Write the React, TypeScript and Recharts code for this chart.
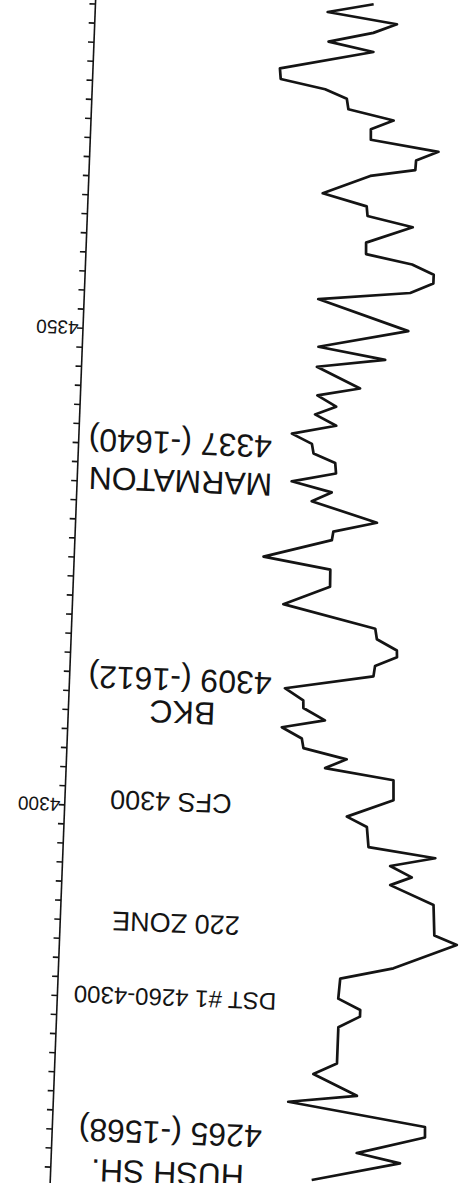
import { LineChart, Line, XAxis, YAxis, ReferenceDot } from "recharts";

const depthFt = [
  4261.7, 4263.8, 4264.7, 4266.6, 4267.7, 4269.8, 4270.7, 4272.8, 4274.0, 4277.8,
  4279.0, 4279.7, 4280.8, 4282.9, 4284.2, 4286.9, 4287.8, 4291.0, 4292.9, 4293.8,
  4294.9, 4295.9, 4296.8, 4298.9, 4299.9, 4301.8, 4303.9, 4304.9, 4305.9, 4306.9,
  4307.9, 4309.0, 4309.9, 4311.1, 4311.9, 4313.1, 4314.7, 4315.8, 4316.8, 4317.5,
  4318.6, 4319.7, 4321.9, 4323.9, 4325.7, 4326.8, 4328.8, 4329.7, 4330.8, 4332.8,
  4333.8, 4334.8, 4335.8, 4336.9, 4337.8, 4338.8, 4339.8, 4340.8, 4341.9, 4342.8,
  4343.9, 4344.8, 4346.9, 4347.9, 4349.0, 4351.0, 4354.0, 4355.0, 4356.1, 4357.0,
  4358.0, 4358.9, 4360.1, 4361.9, 4362.9, 4363.9, 4365.1, 4367.1, 4367.9, 4368.9,
  4369.9, 4370.9, 4372.0, 4373.0, 4374.0, 4375.1, 4376.0, 4376.9, 4378.0, 4380.1,
  4381.0, 4382.1, 4383.1, 4384.1, 4385.1,
];
const gammaRay = [
  65.3, 87.2, 76.3, 93.2, 93.1, 58.7, 75.8, 64.7, 70.5, 70.5,
  75.8, 75.8, 70.2, 70.5, 83.7, 99.3, 93.6, 93.1, 82.1, 87.4,
  81.9, 93.1, 76.3, 75.7, 70.6, 82.1, 81.9, 64.7, 70.0, 59.1,
  58.6, 53.5, 64.2, 58.7, 58.6, 53.9, 75.9, 76.2, 81.6, 81.5,
  76.4, 75.9, 52.7, 64.2, 64.1, 47.3, 64.2, 64.5, 75.3, 58.8,
  63.7, 53.6, 64.6, 64.3, 58.8, 58.3, 53.2, 64.2, 58.8, 64.0,
  59.2, 69.8, 58.8, 75.8, 59.0, 81.3, 58.5, 81.4, 87.1, 87.1,
  81.6, 70.0, 69.9, 81.4, 70.0, 69.7, 58.6, 70.3, 81.5, 81.6,
  87.1, 70.1, 70.0, 75.6, 64.2, 63.7, 58.2, 47.0, 46.7, 69.9,
  58.6, 69.7, 75.5, 58.1, 69.5,
];

const depthTicks: number[] = [];
for (let d = 4260; d <= 4384; d += 2) depthTicks.push(d);
const labeledTicks = [4300, 4350];

// formation tops / notes as written on the log
const tops = [
  { name: "HUSH SH.", depth: 4265, datum: -1568 },
  { name: "BKC", depth: 4309, datum: -1612 },
  { name: "MARMATON", depth: 4337, datum: -1640 },
];
const notes = ["DST #1 4260-4300", "220 ZONE", "CFS 4300"];

const rows = depthFt.map((d, i) => ({ depth: d, gr: gammaRay[i] }));

// where each line of lettering sits on the track: [gr, depth, size]
const lettering: { text: string; at: [number, number]; size: number }[] = [
  { text: tops[0].name, at: [29.2, 4261.8], size: 32 },
  { text: `${tops[0].depth} (${tops[0].datum})`, at: [29.5, 4266.0], size: 32 },
  { text: notes[0], at: [29.4, 4280.2], size: 24 },
  { text: notes[1], at: [28.9, 4288.0], size: 27 },
  { text: notes[2], at: [26.5, 4300.7], size: 27 },
  { text: tops[1].name, at: [28.5, 4310.1], size: 32 },
  { text: `${tops[1].depth} (${tops[1].datum})`, at: [27.6, 4313.5], size: 32 },
  { text: tops[2].name, at: [25.8, 4334.3], size: 32 },
  { text: `${tops[2].depth} (${tops[2].datum})`, at: [25.4, 4338.3], size: 32 },
];

const FONT = "'Liberation Sans', Arial, sans-serif";
const INK = "#141414";

function Lettering({ viewBox, text, size }: any) {
  if (!viewBox) return null;
  const cx = viewBox.x + (viewBox.width || 0) / 2;
  const cy = viewBox.y + (viewBox.height || 0) / 2;
  return (
    <text
      x={cx}
      y={cy}
      dy="0.36em"
      textAnchor="middle"
      fontFamily={FONT}
      fontSize={size}
      fill={INK}
    >
      {text}
    </text>
  );
}

export default function App() {
  return (
    <div style={{ position: "fixed", inset: 0, overflow: "hidden", background: "#fff" }}>
      {/* scanned sheet is upside down and slightly skewed */}
      <div
        style={{
          position: "absolute",
          left: -20,
          top: -20,
          width: 499,
          height: 1223,
          transform: "rotate(182.2deg)",
          transformOrigin: "50% 50%",
        }}
      >
        <LineChart
          width={499}
          height={1223}
          layout="vertical"
          data={rows}
          margin={{ top: 0.86, right: 0, bottom: 10.56, left: 6 }}
        >
          <XAxis type="number" dataKey="gr" domain={[0, 100]} reversed hide />
          <YAxis
            type="number"
            dataKey="depth"
            domain={[4259, 4386]}
            allowDataOverflow
            orientation="right"
            width={93}
            ticks={depthTicks}
            interval={0}
            tickSize={6}
            tickMargin={-1.5}
            tickFormatter={(v: number) => (labeledTicks.includes(v) ? String(v) : "")}
            tick={{ fontSize: 19, fill: INK, fontFamily: FONT }}
            axisLine={{ stroke: INK, strokeWidth: 1.6 }}
            tickLine={{ stroke: INK, strokeWidth: 1.6 }}
          />
          {lettering.map((l, i) => (
            <ReferenceDot
              key={i}
              x={l.at[0]}
              y={l.at[1]}
              r={0}
              fill="none"
              stroke="none"
              label={<Lettering text={l.text} size={l.size} />}
            />
          ))}
          <Line
            type="linear"
            dataKey="gr"
            stroke={INK}
            strokeWidth={2.7}
            strokeLinejoin="round"
            dot={false}
            isAnimationActive={false}
          />
        </LineChart>
      </div>
    </div>
  );
}
